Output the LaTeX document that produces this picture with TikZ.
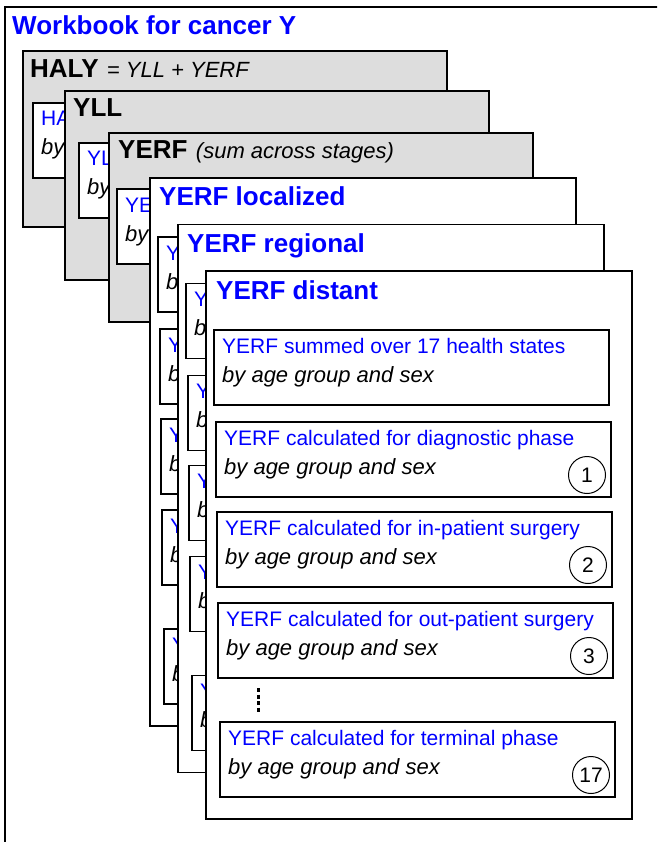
\documentclass[tikz,border=0pt]{standalone}
\usepackage{fontspec}
\setmainfont{Liberation Sans}
\usetikzlibrary{calc}
\usepackage[svgnames]{xcolor}
\definecolor{wbblue}{RGB}{0,0,255}
\definecolor{wbgrey}{RGB}{221,221,221}
\newcommand{\boxfont}{\fontsize{21}{25}\selectfont}
\newcommand{\itfont}{\fontsize{22}{26}\selectfont\itshape}
\newcommand{\headfont}{\fontsize{26}{31}\selectfont\bfseries}
\tikzset{
  edgeline/.style={draw=black, line width=1.3pt},
  greypanel/.style={edgeline, fill=wbgrey},
  whitepanel/.style={edgeline, fill=white},
  head/.style={anchor=base west, inner sep=0pt, font=\headfont},
  boxtxt/.style={anchor=base west, inner sep=0pt, font=\boxfont},
  boxit/.style={anchor=base west, inner sep=0pt, font=\itfont},
  stepnum/.style={draw, circle, line width=1pt, minimum size=37pt, inner sep=0pt, font=\boxfont},
  vdots/.style={line width=3pt, dash pattern=on 4pt off 2.5pt},
}
% 结果框: 名称, x, y, 蓝色标题, 斜体说明
\newcommand{\ybox}[5]{%
  \draw[whitepanel] (#2,#3) rectangle ++(395,75);
  \node[boxtxt, text=wbblue] (#1-t) at (#2+8,#3+23) {#4};
  \node[boxit] (#1-s) at (#2+8,#3+52) {#5};
}
% 编号圆圈
\newcommand{\ynum}[4]{%
  \node[stepnum] (#1-n) at (#2+371,#3+53) {#4};
}
% 被遮住的分期面板: 名称, 位置, 标题
\newcommand{\stagepanel}[3]{%
  \begin{scope}[shift={(#2)}]
    \draw[whitepanel] (0,0) rectangle (426,548);
    \node[head, text=wbblue] (#1-h) at (9,28) {#3};
    \ybox{#1-a}{8}{59}{Y}{b}
    \ybox{#1-b}{10}{151}{Y}{b}
    \ybox{#1-c}{11}{241}{Y}{b}
    \ybox{#1-d}{12}{332}{Y}{b}
    \ybox{#1-e}{14}{451}{Y}{b}
  \end{scope}}

\begin{document}
\begin{tikzpicture}[x=1pt, y=-1pt]
  \useasboundingbox (0,0) rectangle (657,842);
  \clip (0,0) rectangle (657,842);

  % 外框
  \draw[edgeline] (5,7) rectangle (700,900);
  \node[head, text=wbblue] (title) at (12,35) {Workbook for cancer Y};

  % HALY
  \draw[greypanel] (23,51) rectangle ++(424,176);
  \node[head] (haly-h) at (30,78) {HALY};
  \node[boxit] (haly-f) at ([xshift=8pt]haly-h.base east) {= YLL + YERF};
  \ybox{haly}{33}{103}{HA}{by}

  % YLL
  \draw[greypanel] (65,91) rectangle ++(424,189);
  \node[head] (yll-h) at (73,117) {YLL};
  \ybox{yll}{79}{143}{YL}{by}

  % YERF
  \draw[greypanel] (109,133) rectangle ++(424,189);
  \node[head] (yerf-h) at (118,159) {YERF};
  \node[boxit] (yerf-f) at ([xshift=8pt]yerf-h.base east) {(sum across stages)};
  \ybox{yerf}{117}{189}{YE}{by}

  % 各分期
  \stagepanel{loc}{150,178}{YERF localized}
  \stagepanel{reg}{178,224.5}{YERF regional}

  % 远处转移
  \begin{scope}[shift={(206,271)}]
    \draw[whitepanel] (0,0) rectangle (426,548);
    \node[head, text=wbblue] (dist-h) at (10,28) {YERF distant};
    \ybox{dist-a}{8}{59}{YERF summed over 17 health states}{by age group and sex}
    \ybox{dist-b}{10}{151}{YERF calculated for diagnostic phase}{by age group and sex}
    \ynum{dist-b}{10}{151}{1}
    \ybox{dist-c}{11}{241}{YERF calculated for in-patient surgery}{by age group and sex}
    \ynum{dist-c}{11}{241}{2}
    \ybox{dist-d}{12}{332}{YERF calculated for out-patient surgery}{by age group and sex}
    \ynum{dist-d}{12}{332}{3}
    \coordinate (dist-v1) at (52,417);
    \coordinate (dist-v2) at (52,442);
    \draw[vdots] (dist-v1) -- (dist-v2);
    \ybox{dist-e}{14}{451}{YERF calculated for terminal phase}{by age group and sex}
    \ynum{dist-e}{14}{451}{17}
  \end{scope}
\end{tikzpicture}
\end{document}
